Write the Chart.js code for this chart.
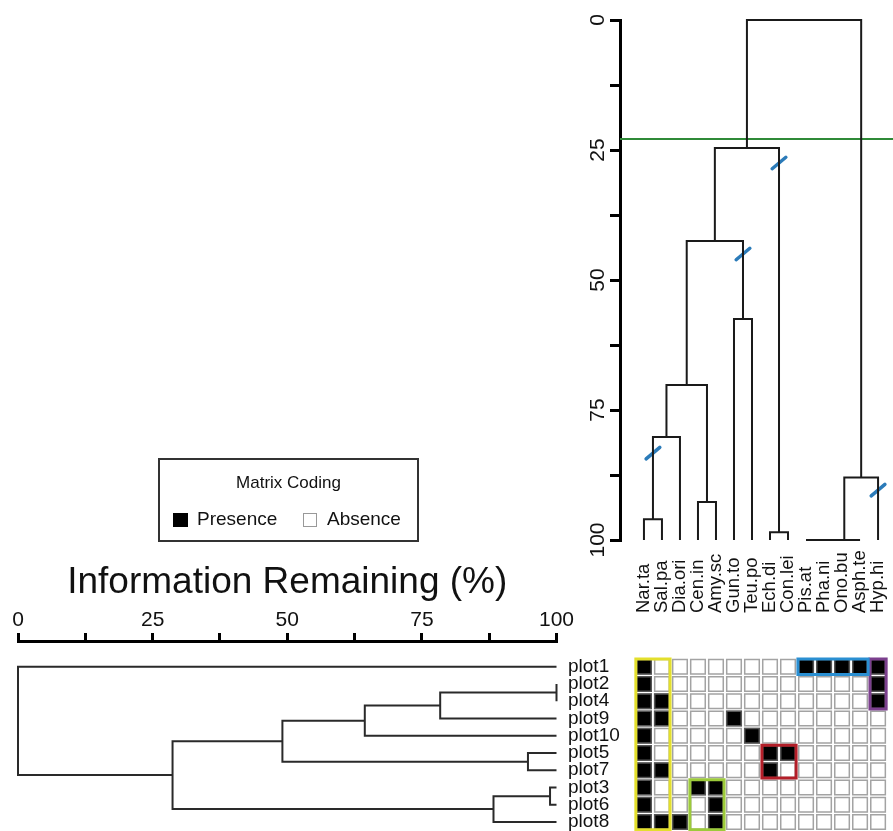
<!DOCTYPE html>
<html>
<head>
<meta charset="utf-8">
<script src="https://cdn.jsdelivr.net/npm/chart.js@4.4.1/dist/chart.umd.min.js"></script>
<style>
  html, body { margin: 0; padding: 0; background: #fff; }
  #wrap { position: relative; width: 893px; height: 831px; overflow: hidden; font-family: "Liberation Sans", Arial, sans-serif; color: #111; }
  #wrap canvas { position: absolute; left: 0; top: 0; }
  #legend { position: absolute; left: 158px; top: 458px; width: 261px; height: 84px; border: 2px solid #333; box-sizing: border-box; }
  #legend .title { position: absolute; left: 0; width: 100%; top: 13px; text-align: center; font-size: 17px; line-height: 20px; }
  #legend .item { position: absolute; top: 48px; font-size: 19px; line-height: 22px; }
  #legend .sw { position: absolute; top: 53px; width: 15px; height: 14px; box-sizing: border-box; }
</style>
</head>
<body>
<div id="wrap">
  <canvas id="matrixChart" width="893" height="831"></canvas>
  <canvas id="plotChart" width="893" height="831"></canvas>
  <canvas id="speciesChart" width="893" height="831"></canvas>
  <div id="legend">
    <div class="title">Matrix Coding</div>
    <div class="sw" style="left:13px;background:#000;"></div>
    <div class="item" style="left:37px;">Presence</div>
    <div class="sw" style="left:143px;width:14px;border:1px solid #999;background:#fff;"></div>
    <div class="item" style="left:167px;">Absence</div>
  </div>
</div>
<script>
// information remaining axis (both dendrograms)
var infoTicks = [0, 12.5, 25, 37.5, 50, 62.5, 75, 87.5, 100];
var infoLabels = [0, 25, 50, 75, 100];

// species dendrogram (leaf order left to right)
var speciesNames = ['Nar.ta', 'Sal.pa', 'Dia.ori', 'Cen.in', 'Amy.sc', 'Gun.to', 'Teu.po',
  'Ech.di', 'Con.lei', 'Pis.at', 'Pha.ni', 'Ono.bu', 'Asph.te', 'Hyp.hi'];
// negative = leaf number, positive = earlier merge number
var speciesMerges = [[-10, -11], [1, -12], [2, -13], [-1, -2], [-8, -9], [-4, -5], [3, -14],
  [4, -3], [8, 6], [-6, -7], [9, 10], [11, 5], [12, 7]];
var speciesHeights = [100, 100, 100, 96, 98.5, 92.7, 88, 80.2, 70.2, 57.5, 42.5, 24.6, 0];
var speciesCut = 22.9;
var markNodes = [5, 10, 4, -14];
var markValues = [27.5, 45, 83.3, 90.4];

// plot dendrogram (leaf order top to bottom)
var plotNames = ['plot1', 'plot2', 'plot4', 'plot9', 'plot10', 'plot5', 'plot7', 'plot3', 'plot6', 'plot8'];
var plotMerges = [[-2, -3], [-8, -9], [-6, -7], [2, -10], [1, -4], [5, -5], [6, 3], [7, 4], [-1, 8]];
var plotHeights = [100, 98.8, 94.7, 88.3, 78.4, 64.4, 49.1, 28.7, 0];

// presence matrix: species columns present in each plot row
var presence = [
  [0, 9, 10, 11, 12, 13],
  [0, 13],
  [0, 1, 13],
  [0, 1, 5],
  [0, 6],
  [0, 7, 8],
  [0, 1, 7],
  [0, 3, 4],
  [0, 4],
  [0, 1, 2, 4]
];
var groupCols = [[0, 1], [9, 12], [13, 13], [7, 8], [3, 4]];
var groupRows = [[0, 9], [0, 0], [0, 2], [5, 6], [7, 9]];
var groupColors = ['#e3df2c', '#2a8fd2', '#7b3f8d', '#b31e28', '#9cca3a'];

var FONT = '"Liberation Sans", Arial, sans-serif';
Chart.defaults.font.family = FONT;
Chart.defaults.color = '#111';

function buildDendro(merges, heights, leafHeight) {
  var pos = [], segs = [];
  function node(ref) {
    if (ref < 0) return { p: -ref - 1, h: leafHeight };
    return { p: pos[ref - 1], h: heights[ref - 1] };
  }
  merges.forEach(function (m, i) {
    var a = node(m[0]), b = node(m[1]);
    pos[i] = (a.p + b.p) / 2;
    segs.push([[a.p, a.h], [a.p, heights[i]], [b.p, heights[i]], [b.p, b.h]]);
  });
  return { segs: segs, pos: pos };
}

function lineSet(points, color, width) {
  return {
    data: points, showLine: true, borderColor: color, borderWidth: width,
    pointRadius: 0, clip: false, borderJoinStyle: 'miter', borderCapStyle: 'butt'
  };
}

// ---- species chart ----
var sp = buildDendro(speciesMerges, speciesHeights, 100);
var speciesSets = sp.segs.map(function (s) {
  return lineSet(s.map(function (q) { return { x: q[0], y: q[1] }; }), '#1a1a1a', 2);
});
speciesSets.push(lineSet([{ x: -1.33, y: speciesCut }, { x: 13.83, y: speciesCut }], '#2f8a38', 2));
markNodes.forEach(function (n, i) {
  var px = n < 0 ? -n - 1 : sp.pos[n - 1];
  var v = markValues[i];
  var s = lineSet([{ x: px - 0.38, y: v + 1.1 }, { x: px + 0.38, y: v - 1.1 }], '#2b7bb9', 3.5);
  s.borderCapStyle = 'round';
  speciesSets.push(s);
});

var speciesText = {
  id: 'speciesText',
  afterDraw: function (chart) {
    var ctx = chart.ctx, xs = chart.scales.x, ys = chart.scales.y, area = chart.chartArea;
    ctx.save();
    ctx.fillStyle = '#111';
    ctx.font = '21px ' + FONT;
    ctx.textAlign = 'center';
    ctx.textBaseline = 'alphabetic';
    infoLabels.forEach(function (v) {
      ctx.save();
      ctx.translate(area.left - 16, ys.getPixelForValue(v));
      ctx.rotate(-Math.PI / 2);
      ctx.fillText(String(v), 0, 0);
      ctx.restore();
    });
    ctx.font = '18.5px ' + FONT;
    ctx.textAlign = 'left';
    ctx.textBaseline = 'middle';
    speciesNames.forEach(function (name, i) {
      ctx.save();
      ctx.translate(xs.getPixelForValue(i), area.bottom + 73);
      ctx.rotate(-Math.PI / 2);
      ctx.fillText(name, 0, 0);
      ctx.restore();
    });
    ctx.restore();
  }
};

new Chart(document.getElementById('speciesChart'), {
  type: 'scatter',
  data: { datasets: speciesSets },
  options: {
    responsive: false, animation: false, events: [],
    layout: { autoPadding: false, padding: { left: 610, top: 20, right: 0, bottom: 291 } },
    plugins: { legend: { display: false }, tooltip: { enabled: false } },
    scales: {
      x: { type: 'linear', display: false, min: -1.33, max: 13.83 },
      y: {
        type: 'linear', reverse: true, min: 0, max: 100,
        afterBuildTicks: function (s) { s.ticks = infoTicks.map(function (v) { return { value: v }; }); },
        ticks: { display: false },
        grid: { drawOnChartArea: false, drawTicks: true, tickLength: 10, tickWidth: 3, lineWidth: 3, color: '#000' },
        border: { display: true, width: 3, color: '#000' }
      }
    }
  },
  plugins: [speciesText]
});

// ---- plot chart ----
var pl = buildDendro(plotMerges, plotHeights, 100);
var plotSets = pl.segs.map(function (s) {
  return lineSet(s.map(function (q) { return { x: q[1], y: q[0] }; }), '#2a2a2a', 2);
});

new Chart(document.getElementById('plotChart'), {
  type: 'scatter',
  data: { datasets: plotSets },
  options: {
    responsive: false, animation: false, events: [],
    layout: { autoPadding: false, padding: { left: 18, top: 556, right: 256.5, bottom: 0 } },
    plugins: { legend: { display: false }, tooltip: { enabled: false } },
    scales: {
      x: {
        type: 'linear', position: 'top', min: 0, max: 100,
        afterBuildTicks: function (s) { s.ticks = infoTicks.map(function (v) { return { value: v }; }); },
        afterFit: function (s) { s.height = 85; },
        ticks: {
          callback: function (v) { return infoLabels.indexOf(v) >= 0 ? String(v) : ''; },
          font: { size: 21 }, color: '#111', padding: 0, maxRotation: 0, autoSkip: false
        },
        grid: { drawOnChartArea: false, tickLength: 8, tickWidth: 3, lineWidth: 3, color: '#000' },
        border: { width: 3, color: '#000' },
        title: { display: true, text: 'Information Remaining (%)', font: { size: 37 }, color: '#111', padding: { top: 5, bottom: 3 } }
      },
      y: {
        type: 'linear', position: 'right', reverse: true, min: -1.49, max: 9.52,
        afterBuildTicks: function (s) { s.ticks = plotNames.map(function (n, i) { return { value: i }; }); },
        afterFit: function (s) { s.width = 80; s.paddingTop = 0; s.paddingBottom = 0; },
        ticks: {
          callback: function (v) { return plotNames[v]; },
          font: { size: 19 }, color: '#111', padding: 11.5, autoSkip: false
        },
        grid: { display: false, drawTicks: false },
        border: { display: false }
      }
    }
  }
});

// ---- matrix chart ----
var absentCells = [], presentCells = [];
presence.forEach(function (row, r) {
  speciesNames.forEach(function (n, c) {
    absentCells.push({ x: c, y: r });
  });
  row.forEach(function (c) { presentCells.push({ x: c, y: r }); });
});

var matrixSets = [];
groupCols.forEach(function (cols, i) {
  var rows = groupRows[i], d = 0.05;
  var x0 = cols[0] - 0.5 + d, x1 = cols[1] + 0.5 - d;
  var y0 = rows[0] - 0.5 + d, y1 = rows[1] + 0.5 - d;
  var s = lineSet([{ x: x0, y: y0 }, { x: x1, y: y0 }, { x: x1, y: y1 }, { x: x0, y: y1 }, { x: x0, y: y0 }], groupColors[i], 3);
  s.borderCapStyle = 'square';
  s.order = 0;
  matrixSets.push(s);
});
matrixSets.push({
  data: presentCells, pointStyle: 'rect', pointRadius: 10.3, backgroundColor: '#000',
  borderColor: '#555', borderWidth: 1.5, clip: false, order: 1
});
matrixSets.push({
  data: absentCells, pointStyle: 'rect', pointRadius: 10.3, backgroundColor: '#fff',
  borderColor: '#a3a3a3', borderWidth: 1.5, clip: false, order: 2
});

new Chart(document.getElementById('matrixChart'), {
  type: 'scatter',
  data: { datasets: matrixSets },
  options: {
    responsive: false, animation: false, events: [],
    layout: { autoPadding: false, padding: { left: 620, top: 641, right: 0, bottom: 0 } },
    plugins: { legend: { display: false }, tooltip: { enabled: false } },
    scales: {
      x: { type: 'linear', display: false, min: -1.33, max: 13.83 },
      y: { type: 'linear', display: false, reverse: true, min: -1.49, max: 9.52 }
    }
  }
});
</script>
</body>
</html>
